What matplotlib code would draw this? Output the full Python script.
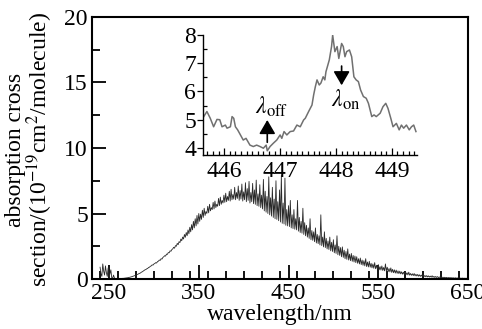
import matplotlib
matplotlib.use("Agg")
import matplotlib.pyplot as plt
from matplotlib.ticker import MultipleLocator

plt.rcParams['font.family'] = ['Liberation Serif', 'DejaVu Serif']
plt.rcParams['mathtext.fontset'] = 'stix'

# ---- main spectrum (absorption cross section, 1e-19 cm^2/molecule), 1 nm grid ----
wavelength = list(range(240, 651))
cross_section = [
    0.9, 0.4, 0.2, 1.15, 0.6, 0.3, 1.0, 0.5, 0.2, 0.85,
    0.1, 0.4, 0.7, 0.1, 0.05, 0.3, 0.08, 0.03, 0.02, 0.02,
    0.02, 0.02, 0.03, 0.03, 0.04, 0.05, 0.05, 0.06, 0.07, 0.08,
    0.09, 0.10, 0.12, 0.13, 0.15, 0.17, 0.19, 0.22, 0.24, 0.27,
    0.30, 0.33, 0.36, 0.40, 0.43, 0.46, 0.52, 0.55, 0.60, 0.64,
    0.70, 0.72, 0.78, 0.80, 0.88, 0.90, 0.97, 1.00, 1.08, 1.06,
    1.15, 1.18, 1.25, 1.22, 1.33, 1.36, 1.45, 1.42, 1.55, 1.52,
    1.65, 1.70, 1.78, 1.75, 1.90, 1.88, 2.02, 2.00, 2.15, 2.12,
    2.25, 2.30, 2.42, 2.35, 2.55, 2.50, 2.72, 2.62, 2.85, 2.78,
    3.05, 2.92, 3.20, 3.05, 3.40, 3.18, 3.55, 3.30, 3.75, 3.45,
    3.95, 3.60, 4.15, 3.75, 4.40, 3.90, 4.60, 4.05, 4.85, 4.20,
    5.00, 4.40, 4.95, 4.55, 5.25, 4.70, 5.40, 4.85, 5.15, 5.00,
    5.55, 5.05, 5.70, 5.20, 5.45, 5.30, 5.85, 5.35, 5.95, 5.45,
    5.70, 5.55, 6.15, 5.60, 6.25, 5.70, 6.00, 5.80, 6.40, 5.85,
    6.55, 5.90, 6.30, 6.00, 6.70, 5.95, 6.85, 6.05, 6.45, 6.10,
    7.00, 6.05, 6.60, 6.15, 7.10, 6.00, 6.75, 6.10, 7.25, 5.95,
    6.65, 6.05, 7.35, 5.90, 6.90, 6.00, 7.45, 5.80, 6.60, 5.90,
    7.30, 5.75, 6.80, 5.70, 7.55, 5.60, 6.50, 5.55, 7.20, 5.45,
    6.40, 5.35, 7.60, 5.20, 6.70, 5.10, 6.30, 5.00, 7.80, 4.90,
    6.20, 4.80, 7.00, 4.70, 6.10, 4.60, 7.50, 4.55, 5.90, 4.45,
    6.80, 4.35, 7.90, 4.25, 5.80, 4.20, 7.70, 4.10, 5.30, 4.05,
    5.60, 4.00, 6.00, 3.90, 4.90, 3.85, 5.30, 3.80, 4.60, 3.75,
    6.00, 3.65, 4.70, 3.55, 4.40, 3.50, 5.40, 3.40, 4.30, 3.30,
    4.10, 3.20, 3.90, 3.10, 4.60, 3.00, 3.70, 2.95, 3.60, 2.85,
    3.90, 2.75, 3.40, 2.70, 3.30, 2.60, 4.90, 2.55, 3.20, 2.45,
    3.60, 2.40, 3.10, 2.30, 2.90, 2.25, 3.20, 2.15, 2.80, 2.10,
    3.00, 2.00, 2.60, 1.95, 3.30, 1.85, 2.50, 1.80, 2.40, 1.70,
    2.45, 1.65, 2.20, 1.55, 2.10, 1.50, 2.30, 1.45, 1.90, 1.40,
    1.95, 1.35, 1.80, 1.30, 1.75, 1.25, 1.70, 1.20, 1.55, 1.15,
    1.60, 1.10, 1.45, 1.05, 1.40, 1.00, 1.55, 0.95, 1.30, 0.92,
    1.35, 0.90, 1.20, 0.85, 1.15, 0.82, 1.25, 0.78, 1.05, 0.75,
    1.10, 0.70, 0.95, 0.68, 1.00, 0.65, 0.88, 0.62, 1.15, 0.60,
    0.90, 0.56, 0.80, 0.54, 0.85, 0.50, 0.74, 0.48, 0.70, 0.45,
    0.68, 0.43, 0.62, 0.41, 0.60, 0.39, 0.55, 0.37, 0.52, 0.35,
    0.58, 0.33, 0.48, 0.31, 0.52, 0.29, 0.42, 0.28, 0.40, 0.26,
    0.42, 0.24, 0.36, 0.23, 0.35, 0.21, 0.32, 0.20, 0.30, 0.19,
    0.32, 0.18, 0.27, 0.17, 0.26, 0.16, 0.24, 0.15, 0.22, 0.14,
    0.25, 0.13, 0.20, 0.12, 0.19, 0.12, 0.18, 0.11, 0.16, 0.10,
    0.17, 0.10, 0.14, 0.09, 0.13, 0.09, 0.12, 0.08, 0.11, 0.08,
    0.11, 0.07, 0.10, 0.07, 0.09, 0.06, 0.09, 0.06, 0.08, 0.06,
    0.08, 0.05, 0.07, 0.05, 0.07, 0.05, 0.06, 0.05, 0.06, 0.04,
    0.05,
]

# ---- inset: zoom around 446-449 nm ----
inset_wl = [445.63, 445.69, 445.75, 445.81, 445.87, 445.92, 445.96, 446.02, 446.05, 446.11,
            446.14, 446.17, 446.20, 446.24, 446.29, 446.34, 446.39, 446.46, 446.52, 446.58,
            446.64, 446.70, 446.75, 446.77, 446.82, 446.88, 446.94, 447.00, 447.03, 447.07,
            447.12, 447.18, 447.24, 447.30, 447.36, 447.42, 447.45, 447.51, 447.57, 447.60,
            447.63, 447.66, 447.70, 447.73, 447.77, 447.80, 447.82, 447.88, 447.92, 447.94,
            447.96, 447.98, 448.02, 448.05, 448.10, 448.13, 448.16, 448.19, 448.24, 448.28,
            448.32, 448.36, 448.40, 448.44, 448.49, 448.54, 448.58, 448.64, 448.68, 448.72,
            448.79, 448.84, 448.89, 448.93, 448.98, 449.02, 449.08, 449.13, 449.17, 449.21,
            449.26, 449.31, 449.35, 449.39, 449.43]
inset_cs = [5.10, 5.29, 5.05, 4.75, 5.01, 5.00, 4.75, 4.81, 4.70, 4.75,
            5.11, 5.05, 4.75, 4.64, 4.46, 4.28, 4.34, 4.10, 4.05, 4.10,
            4.05, 3.99, 4.10, 3.90, 4.05, 4.17, 4.28, 4.46, 4.34, 4.58,
            4.46, 4.58, 4.60, 4.81, 4.75, 4.99, 5.05, 5.29, 5.52, 5.88,
            6.17, 6.41, 6.23, 6.30, 6.52, 6.41, 6.70, 7.12, 7.59, 8.00,
            7.70, 7.41, 7.59, 7.17, 7.70, 7.59, 7.23, 7.41, 7.47, 7.23,
            6.52, 6.41, 6.35, 6.05, 5.82, 5.76, 5.58, 5.11, 5.17, 5.11,
            5.23, 5.46, 5.58, 5.40, 5.05, 4.75, 4.87, 4.64, 4.81, 4.70,
            4.81, 4.64, 4.75, 4.81, 4.58]

lambda_off = 446.77
lambda_on = 448.10

FS = 17

fig = plt.figure(figsize=(4.82, 3.29), dpi=100)
ax = fig.add_axes([92/482, 1-279/329, (468-92)/482, (279-17)/329])
ax.plot(wavelength, cross_section, color='#2a2a2a', lw=0.6)
ax.set_xlim(231, 650)
ax.set_ylim(0, 20)
ax.set_xticks([250, 350, 450, 550, 650])
ax.xaxis.set_minor_locator(MultipleLocator(20))
ax.yaxis.set_major_locator(MultipleLocator(5))
ax.yaxis.set_minor_locator(MultipleLocator(2.5))
ax.tick_params(which='both', direction='in', top=False, right=False, width=1.3, labelsize=FS, pad=3)
ax.tick_params(which='major', length=10)
ax.tick_params(which='minor', length=5.5)
for s in ax.spines.values():
    s.set_linewidth(1.5)
ax.set_xlabel('wavelength/nm', fontsize=FS, labelpad=0)
fig.text(30/482, 1-150/329, 'absorption cross\nsection/(10$^{-19}$cm$^{2}$/molecule)',
         rotation=90, ha='center', va='center', fontsize=FS, linespacing=0.97)

# inset
ins = fig.add_axes([203/482, 1-155/329, (416.5-203)/482, (155-35)/329])
ins.patch.set_alpha(0)
ins.plot(inset_wl, inset_cs, color='#707070', lw=1.1)
ins.set_xlim(445.62, 449.44)
ins.set_ylim(3.75, 8)
ins.spines['top'].set_visible(False)
ins.spines['right'].set_visible(False)
ins.spines['left'].set_linewidth(1.0)
ins.spines['bottom'].set_linewidth(1.0)
ins.set_xticks([446, 447, 448, 449])
ins.xaxis.set_minor_locator(MultipleLocator(0.1))
ins.set_yticks([4, 5, 6, 7, 8])
ins.yaxis.set_minor_locator(MultipleLocator(0.5))
ins.tick_params(which='both', direction='in', labelsize=FS, width=0.9)
ins.tick_params(axis='x', which='both', pad=4)
ins.tick_params(axis='x', which='major', length=5)
ins.tick_params(axis='x', which='minor', length=3)
ins.tick_params(axis='y', which='major', length=4, direction='out', pad=1)
ins.tick_params(axis='y', which='minor', length=3)

ins.annotate('', xy=(lambda_off, 4.99), xytext=(lambda_off, 4.2),
             arrowprops=dict(arrowstyle='-|>,head_width=0.35,head_length=0.6', color='k', lw=1.2,
                             mutation_scale=14, shrinkA=0, shrinkB=0))
ins.text(lambda_off + 0.07, 5.02, r'$\lambda_{\rm off}$', ha='center', va='bottom', fontsize=FS)
ins.annotate('', xy=(lambda_on, 6.22), xytext=(lambda_on, 6.9),
             arrowprops=dict(arrowstyle='-|>,head_width=0.35,head_length=0.6', color='k', lw=1.2,
                             mutation_scale=14, shrinkA=0, shrinkB=0))
ins.text(lambda_on + 0.08, 6.15, r'$\lambda_{\rm on}$', ha='center', va='top', fontsize=FS)

fig.savefig('out.png', dpi=100)
